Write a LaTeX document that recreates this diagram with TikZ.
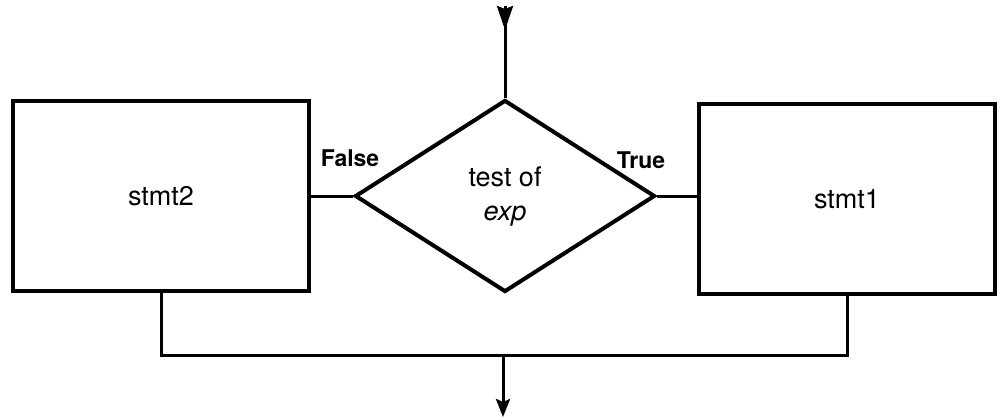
\documentclass[tikz,border=0pt]{standalone}
\usepackage{fontspec}
\setmainfont{TeX Gyre Heros}
\usetikzlibrary{
  arrows.meta,
  positioning,
  shapes.geometric,
  decorations.markings,
}

\begin{document}
\begin{tikzpicture}[
  x=0.5pt, y=-0.5pt,
  font=\fontsize{13.5}{17}\selectfont,
  stmtbox/.style={draw, line width=2pt, minimum width=148pt, minimum height=95pt, inner sep=0pt},
  testbox/.style={draw, diamond, line width=2pt, minimum width=150pt, minimum height=96pt,
    inner sep=0pt, align=center},
  flow/.style={line width=1.5pt},
  branch/.style={font=\fontsize{11.5}{14}\selectfont\bfseries},
]
  % Page: 1007 x 418 px, 1px = 0.5pt, y grows downwards
  \useasboundingbox (0,0) rectangle (1007,418);

  % Decision and the two branches
  \node[testbox] (test) at (505,196) {test of\\\textit{exp}};
  \node[stmtbox] (stmtB) at (161,196) {stmt2};
  \node[stmtbox] (stmtA) at (847,199) {stmt1};

  % Branch labels
  \node[branch] (falselbl) at (350,158) {False};
  \node[branch] (truelbl) at (641,160) {True};

  % Entry, with the arrow head near its top end
  \coordinate (entry) at (505,6);
  \draw[flow, postaction={decorate}, decoration={markings,
      mark=at position 12pt with {\arrow{Stealth[length=12pt, width=8pt, inset=1.5pt]}}}]
    (entry) -- (test.north);

  % Branch connectors
  \draw[flow] (stmtB.east) -- (test.west);
  \draw[flow] (test.east) -- (test.east -| stmtA.west);

  % Join and exit
  \coordinate (join) at (503,355);
  \coordinate (exit) at (503,417);
  \draw[flow] (stmtB.south) |- (join) -| (stmtA.south);
  \draw[flow, -{Stealth[length=9pt, width=7pt, inset=1.5pt]}] (join) -- (exit);

\end{tikzpicture}
\end{document}
